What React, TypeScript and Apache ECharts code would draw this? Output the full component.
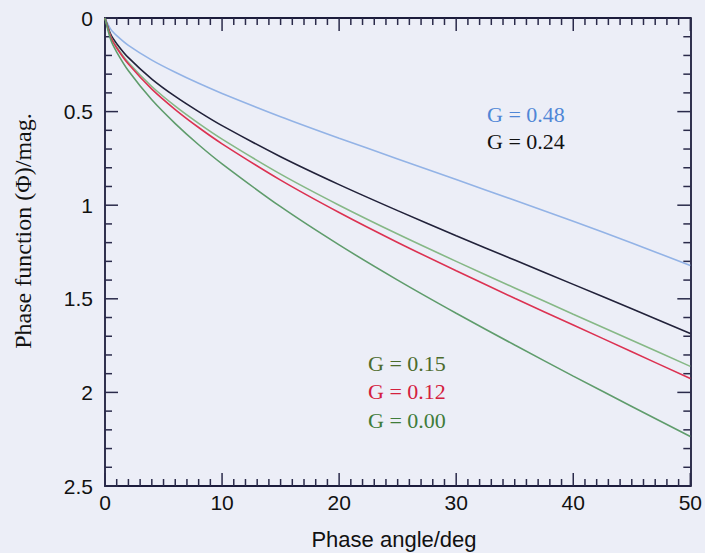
import React, { useEffect, useRef } from "react";
import * as echarts from "echarts";

// Phase angle (deg)
const angles = [0, 0.5, 1, 2, 4, 6, 8, 10, 15, 20, 25, 30, 35, 40, 45, 50];
// Phase function (mag.) for each G value
const g000 = [0, 0.118, 0.182, 0.282, 0.437, 0.564, 0.677, 0.779, 1.008, 1.212, 1.4, 1.577, 1.747, 1.913, 2.075, 2.236];
const g012 = [0, 0.103, 0.16, 0.246, 0.38, 0.489, 0.585, 0.672, 0.866, 1.039, 1.199, 1.35, 1.497, 1.64, 1.783, 1.926];
const g015 = [0, 0.1, 0.154, 0.238, 0.366, 0.471, 0.563, 0.647, 0.834, 1.0, 1.154, 1.3, 1.442, 1.582, 1.721, 1.861];
const g024 = [0, 0.089, 0.137, 0.212, 0.326, 0.419, 0.5, 0.575, 0.741, 0.89, 1.029, 1.163, 1.293, 1.423, 1.553, 1.685];
const g048 = [0, 0.061, 0.094, 0.146, 0.225, 0.29, 0.349, 0.403, 0.527, 0.642, 0.753, 0.863, 0.974, 1.086, 1.202, 1.322];

const seriesNames = ["G = 0.48", "G = 0.24", "G = 0.15", "G = 0.12", "G = 0.00"];
const seriesValues = [g048, g024, g015, g012, g000];
const lineColors = ["#93b3e6", "#22223a", "#86b886", "#dc3252", "#5f9c6c"];
const labelColors = ["#4f86d6", "#111111", "#4c6b2c", "#d4203e", "#3f7c3a"];

const xRange = { min: 0, max: 50, interval: 10 };
const yRange = { min: 0, max: 2.5, interval: 0.5 };
// tick positions (major every 10 / 0.5, minor every 1 / 0.1)
const xTickValues = Array.from({ length: 51 }, (_, i) => i);
const yTickValues = Array.from({ length: 26 }, (_, i) => i / 10);

const frame = "#1c1c3c";
const sans = "'Liberation Sans', Arial, Helvetica, sans-serif";
const serif = "'Liberation Serif', 'Times New Roman', serif";

export default function App() {
  const ref = useRef<HTMLDivElement>(null);
  useEffect(() => {
    if (!ref.current) return;
    const chart = echarts.init(ref.current, null, { renderer: "svg" });
    const baseAxis = {
      type: "value",
      axisLine: { show: true, onZero: false, lineStyle: { color: frame, width: 1.8 } },
      axisTick: { show: false },
      minorTick: { show: false },
      splitLine: { show: false },
    };
    const tickStyle = { stroke: "#2a2a4a", lineWidth: 1.5 };
    const labelPos = [
      { x: 487, y: 114 },
      { x: 487, y: 141 },
      { x: 368, y: 363 },
      { x: 368, y: 391 },
      { x: 368, y: 420 },
    ];
    chart.setOption({
      animation: false,
      backgroundColor: "#eceef7",
      grid: { left: 105, right: 12, top: 18, bottom: 67, containLabel: false },
      xAxis: [
        {
          ...baseAxis,
          position: "bottom",
          ...xRange,
          axisLabel: { color: "#111", fontSize: 21, fontFamily: sans, margin: 6 },
        },
        { ...baseAxis, position: "top", ...xRange, axisLabel: { show: false } },
      ],
      yAxis: [
        {
          ...baseAxis,
          position: "left",
          inverse: true,
          ...yRange,
          axisLabel: { color: "#111", fontSize: 21, fontFamily: sans, margin: 12 },
        },
        { ...baseAxis, position: "right", inverse: true, ...yRange, axisLabel: { show: false } },
      ],
      series: [
        ...seriesNames.map((name, i) => ({
          name,
          type: "line",
          xAxisIndex: 0,
          yAxisIndex: 0,
          showSymbol: false,
          symbol: "none",
          smooth: 0.3,
          lineStyle: { color: lineColors[i], width: 1.6 },
          data: angles.map((a, k) => [a, seriesValues[i][k]]),
        })),
        {
          type: "custom",
          name: "xticks",
          xAxisIndex: 0,
          yAxisIndex: 0,
          clip: false,
          silent: true,
          data: xTickValues.map((v) => [v]),
          renderItem: (_params: any, api: any) => {
            const v = api.value(0);
            const len = Math.round(v) % 10 === 0 ? 13 : 7;
            const top = api.coord([v, yRange.min]);
            const bot = api.coord([v, yRange.max]);
            return {
              type: "group",
              children: [
                { type: "line", shape: { x1: top[0], y1: top[1], x2: top[0], y2: top[1] + len }, style: tickStyle },
                { type: "line", shape: { x1: bot[0], y1: bot[1], x2: bot[0], y2: bot[1] - len }, style: tickStyle },
              ],
            };
          },
        },
        {
          type: "custom",
          name: "yticks",
          xAxisIndex: 0,
          yAxisIndex: 0,
          clip: false,
          silent: true,
          data: yTickValues.map((v) => [0, v]),
          renderItem: (_params: any, api: any) => {
            const v = api.value(1);
            const len = Math.round(v * 10) % 5 === 0 ? 13 : 7;
            const left = api.coord([xRange.min, v]);
            const right = api.coord([xRange.max, v]);
            return {
              type: "group",
              children: [
                { type: "line", shape: { x1: left[0], y1: left[1], x2: left[0] + len, y2: left[1] }, style: tickStyle },
                { type: "line", shape: { x1: right[0], y1: right[1], x2: right[0] - len, y2: right[1] }, style: tickStyle },
              ],
            };
          },
        },
      ],
      graphic: [
        ...seriesNames.map((name, i) => ({
          type: "text",
          x: labelPos[i].x,
          y: labelPos[i].y,
          style: {
            text: name,
            fill: labelColors[i],
            font: `22px ${serif}`,
            align: "left",
            verticalAlign: "middle",
          },
        })),
        {
          type: "text",
          x: 394,
          y: 539,
          style: {
            text: "Phase angle/deg",
            fill: "#111",
            font: `22px ${sans}`,
            align: "center",
            verticalAlign: "middle",
          },
        },
        {
          type: "text",
          x: 23,
          y: 231,
          rotation: Math.PI / 2,
          style: {
            text: "Phase function (Φ)/mag.",
            fill: "#111",
            font: `24px ${serif}`,
            align: "center",
            verticalAlign: "middle",
          },
        },
      ],
    });
    return () => chart.dispose();
  }, []);
  return (
    <div
      ref={ref}
      style={{ position: "fixed", left: 0, top: 0, width: 705, height: 553 }}
    />
  );
}
